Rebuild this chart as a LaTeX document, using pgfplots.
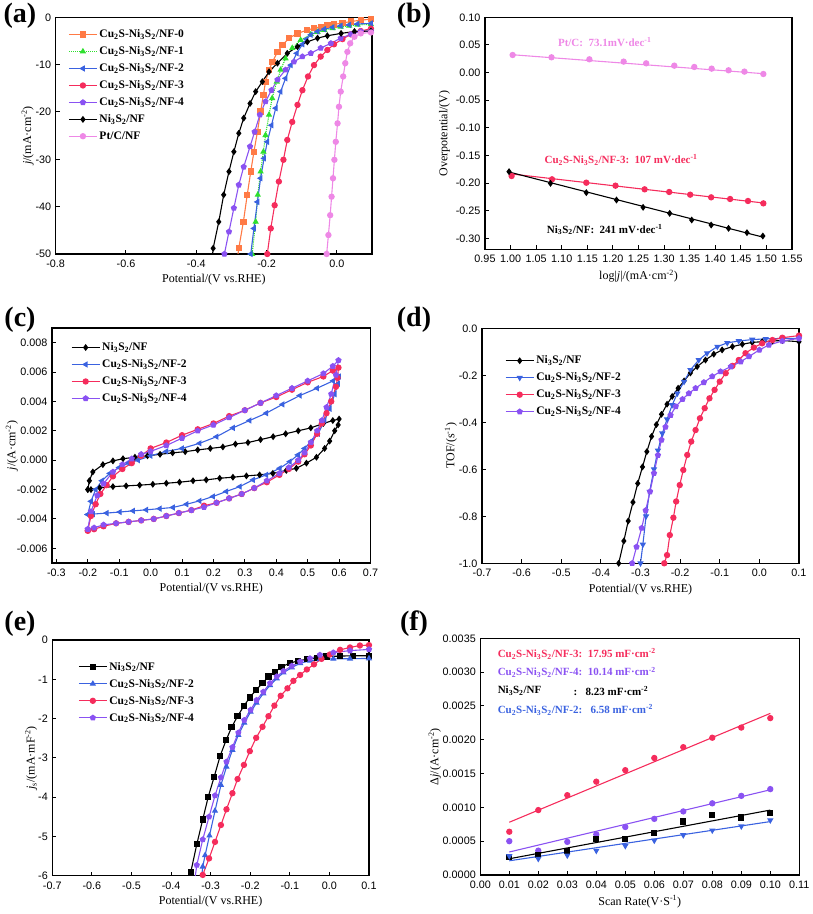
\documentclass[border=0pt]{standalone}
\usepackage{fontspec}
\setmainfont{Liberation Serif}
\newfontfamily\arialf{Liberation Sans}
\usepackage{pgfplots}
\pgfplotsset{compat=1.18}

\definecolor{cOr}{HTML}{FF7A45}
\definecolor{cGr}{HTML}{2EE02E}
\definecolor{cBl}{HTML}{3A62E0}
\definecolor{cRd}{HTML}{F52C5C}
\definecolor{cPu}{HTML}{8A52F2}
\definecolor{cPk}{HTML}{EE88E6}

\newcommand{\cns}[1]{Cu\textsubscript{2}S-Ni\textsubscript{3}S\textsubscript{2}/NF-#1}
\newcommand{\ns}{Ni\textsubscript{3}S\textsubscript{2}/NF}

\pgfplotsset{
  panel/.style={
    scale only axis,
    axis line style={line width=1.1pt},
    tick align=inside,
    xtick pos=left, ytick pos=left,
    major tick length=4pt,
    tick style={line width=1pt, black},
    tick label style={font=\arialf\fontsize{10.8}{12}\selectfont},
    xticklabel style={yshift=-2.5pt},
    yticklabel style={xshift=-1pt},
    /pgf/number format/assume math mode=true,
    label style={font=\fontsize{12}{14}\selectfont},
    scaled ticks=false,
    legend cell align=left,
    legend style={draw=none, fill=none, font=\bfseries\fontsize{11.5}{13}\selectfont, row sep=3.5pt, nodes={inner sep=2pt}},
    legend image code/.code={\draw[mark repeat=2,mark phase=2] plot coordinates {(0pt,0pt) (14pt,0pt) (28pt,0pt)};},
    every axis plot/.append style={line width=1.1pt, mark size=2.6pt},
  },
  f1/.style={/pgf/number format/.cd, fixed, fixed zerofill, precision=1},
  f2/.style={/pgf/number format/.cd, fixed, fixed zerofill, precision=2},
  f3/.style={/pgf/number format/.cd, fixed, fixed zerofill, precision=3},
  f4/.style={/pgf/number format/.cd, fixed, fixed zerofill, precision=4},
}

\begin{document}
\begin{tikzpicture}
\useasboundingbox (0,0) rectangle (813pt,914pt);

% ---------------- (a)
\begin{axis}[panel, at={(55.7pt,660pt)}, anchor=south west, width=316.3pt, height=236.7pt,
  xmin=-0.8, xmax=0.1, ymin=-50, ymax=0,
  xtick={-0.8,-0.6,-0.4,-0.2,0.0}, ytick={0,-10,-20,-30,-40,-50},
  xticklabel style={f1}, ylabel shift=-5pt,
  xlabel={Potential/(V vs.RHE)}, ylabel={\textit{j}/(mA·cm\textsuperscript{-2})},
  legend style={at={(0.03,0.965)}, anchor=north west}]
\addplot[cOr, mark=square*] coordinates {(-0.285,-52) (-0.279,-48.8) (-0.266,-43.2) (-0.255,-37.5) (-0.245,-32.6) (-0.236,-28.4) (-0.226,-24.2) (-0.217,-19.9) (-0.209,-16.4) (-0.203,-13.6) (-0.193,-11.1) (-0.183,-9.4) (-0.169,-7.3) (-0.155,-5.9) (-0.136,-4.4) (-0.112,-3.4) (-0.084,-2.7) (-0.065,-2.3) (-0.046,-2.0) (-0.027,-1.7) (-0.008,-1.5) (0.016,-1.2) (0.04,-0.9) (0.068,-0.6) (0.097,-0.4)};
\addlegendentry{\cns{0}}
\addplot[cGr, densely dotted, mark=triangle*, mark options={solid}] coordinates {(-0.243,-52) (-0.241,-50) (-0.231,-43.2) (-0.225,-37.5) (-0.217,-32.6) (-0.209,-28.4) (-0.203,-24.9) (-0.193,-20.6) (-0.184,-17.1) (-0.171,-13.6) (-0.160,-11.1) (-0.146,-8.7) (-0.127,-6.5) (-0.103,-4.8) (-0.074,-3.6) (-0.055,-3.1) (-0.036,-2.7) (-0.012,-2.3) (0.011,-2.0) (0.035,-1.8) (0.059,-1.6) (0.097,-1.5)};
\addlegendentry{\cns{1}}
\addplot[cBl, mark=triangle*, mark options={rotate=90}] coordinates {(-0.247,-52) (-0.245,-50) (-0.236,-44.6) (-0.226,-39.0) (-0.217,-34.0) (-0.207,-29.8) (-0.198,-26.3) (-0.186,-22.8) (-0.174,-19.2) (-0.160,-15.7) (-0.146,-12.9) (-0.131,-10.1) (-0.114,-7.6) (-0.098,-5.7) (-0.086,-4.6) (-0.074,-3.7) (-0.055,-3.0) (-0.036,-2.5) (-0.012,-2.1) (0.011,-1.8) (0.035,-1.6) (0.059,-1.4) (0.097,-1.3)};
\addlegendentry{\cns{2}}
\addplot[cRd, mark=*] coordinates {(-0.200,-52) (-0.198,-50) (-0.188,-44.6) (-0.177,-39.7) (-0.165,-34.7) (-0.152,-30.1) (-0.141,-25.9) (-0.127,-22.1) (-0.112,-18.5) (-0.098,-15.4) (-0.082,-12.5) (-0.065,-10.1) (-0.046,-8.3) (-0.027,-6.9) (-0.008,-5.7) (0.016,-4.6) (0.04,-3.6) (0.068,-2.9) (0.097,-2.4)};
\addlegendentry{\cns{3}}
\addplot[cPu, mark=pentagon*] coordinates {(-0.322,-52) (-0.320,-50) (-0.307,-45.3) (-0.293,-40.3) (-0.279,-35.4) (-0.265,-31.6) (-0.247,-27.3) (-0.234,-24.2) (-0.219,-20.6) (-0.203,-17.8) (-0.186,-15.4) (-0.169,-13.2) (-0.146,-11.1) (-0.122,-9.4) (-0.098,-8.3) (-0.074,-7.6) (-0.046,-6.5) (-0.017,-5.5) (0.011,-4.4) (0.04,-3.6) (0.068,-3.0) (0.097,-2.9)};
\addlegendentry{\cns{4}}
\addplot[black, mark=diamond*] coordinates {(-0.356,-52) (-0.352,-48.8) (-0.336,-43.2) (-0.322,-37.5) (-0.307,-32.6) (-0.293,-28.4) (-0.279,-24.5) (-0.265,-21.3) (-0.247,-18.2) (-0.231,-15.7) (-0.212,-13.6) (-0.193,-11.5) (-0.169,-9.7) (-0.141,-7.6) (-0.112,-6.2) (-0.084,-5.2) (-0.055,-4.4) (-0.027,-3.9) (0.012,-3.4) (0.05,-3.0) (0.097,-2.9)};
\addlegendentry{\ns}
\addplot[cPk, mark=*] coordinates {(-0.030,-52) (-0.029,-50) (-0.024,-46) (-0.019,-41.8) (-0.015,-37.9) (-0.011,-34.0) (-0.007,-30.1) (-0.003,-26.3) (0.002,-22.4) (0.006,-18.9) (0.011,-15.7) (0.018,-12.5) (0.024,-9.7) (0.030,-7.3) (0.038,-5.5) (0.050,-4.1) (0.068,-3.4) (0.097,-3.2)};
\addlegendentry{Pt/C/NF}
\end{axis}

% ---------------- (b)
\begin{axis}[panel, at={(485pt,664.6pt)}, anchor=south west, width=307pt, height=232.1pt,
  xmin=0.95, xmax=1.55, ymin=-0.32, ymax=0.10,
  xtick={0.95,1.00,1.05,1.10,1.15,1.20,1.25,1.30,1.35,1.40,1.45,1.50,1.55},
  ytick={0.10,0.05,0.00,-0.05,-0.10,-0.15,-0.20,-0.25,-0.30},
  xticklabel style={f2}, yticklabel style={f2}, ylabel shift=-1pt,
  xlabel={log|\textit{j}|/(mA·cm\textsuperscript{-2})}, ylabel={Overpotential/(V)}]
\addplot[cPk, no marks] coordinates {(1.0,0.0325) (1.494,-0.002)};
\addplot[cPk, only marks, mark=*] coordinates {(1.004,0.0318) (1.080,0.0276) (1.154,0.024) (1.221,0.0198) (1.265,0.0167) (1.320,0.0125) (1.359,0.0101) (1.393,0.0071) (1.426,0.0041) (1.457,0.0017) (1.494,-0.0026)};
\addplot[cRd, no marks] coordinates {(0.997,-0.183) (1.494,-0.236)};
\addplot[cRd, only marks, mark=*] coordinates {(1.002,-0.1872) (1.081,-0.1932) (1.148,-0.1993) (1.205,-0.2047) (1.262,-0.2113) (1.310,-0.2161) (1.351,-0.2210) (1.392,-0.2258) (1.429,-0.2288) (1.464,-0.2324) (1.494,-0.2367)};
\addplot[black, no marks] coordinates {(0.997,-0.180) (1.494,-0.298)};
\addplot[black, only marks, mark=diamond*] coordinates {(0.997,-0.1793) (1.078,-0.2005) (1.148,-0.2173) (1.207,-0.2306) (1.259,-0.2439) (1.311,-0.2548) (1.354,-0.2668) (1.392,-0.2759) (1.426,-0.2819) (1.462,-0.2897) (1.493,-0.2958)};
\node[text=cPk, font=\bfseries\fontsize{11}{13}\selectfont] at (axis cs:1.184,0.056) {Pt/C:\ \ 73.1mV·dec\textsuperscript{-1}};
\node[text=cRd, font=\bfseries\fontsize{11}{13}\selectfont] at (axis cs:1.216,-0.158) {Cu\textsubscript{2}S-Ni\textsubscript{3}S\textsubscript{2}/NF-3:\ \ 107 mV·dec\textsuperscript{-1}};
\node[text=black, font=\bfseries\fontsize{11}{13}\selectfont] at (axis cs:1.184,-0.284) {Ni\textsubscript{3}S\textsubscript{2}/NF:\ \ 241 mV·dec\textsuperscript{-1}};
\end{axis}

% ---------------- (c)
\begin{axis}[panel, at={(52pt,351pt)}, anchor=south west, width=318.5pt, height=235pt,
  xmin=-0.314, xmax=0.7, ymin=-0.007, ymax=0.009,
  xtick={-0.3,-0.2,-0.1,0.0,0.1,0.2,0.3,0.4,0.5,0.6,0.7},
  ytick={0.008,0.006,0.004,0.002,0.000,-0.002,-0.004,-0.006},
  xticklabel style={f1}, yticklabel style={f3}, ylabel shift=-8pt,
  xlabel={Potential/(V vs.RHE)}, ylabel={\textit{j}/(A·cm\textsuperscript{-2})},
  legend style={at={(0.05,0.955)}, anchor=north west}]
\addplot[black, mark=diamond*] coordinates {(-0.200,-0.0020) (-0.195,-0.0014) (-0.184,-0.0008) (-0.152,-0.0003) (-0.120,-0.00005) (-0.088,0.0001) (-0.050,0.0002) (-0.010,0.0003) (0.030,0.0004) (0.070,0.0005) (0.110,0.00058) (0.150,0.0007) (0.190,0.0008) (0.230,0.0009) (0.270,0.0011) (0.310,0.0012) (0.350,0.0014) (0.390,0.0016) (0.430,0.0018) (0.470,0.0020) (0.510,0.0022) (0.550,0.0025) (0.580,0.0027) (0.600,0.0028) (0.597,0.0024) (0.586,0.0020) (0.570,0.0013) (0.554,0.0008) (0.528,0.0002) (0.496,-0.0002) (0.464,-0.00055) (0.432,-0.0007) (0.389,-0.0009) (0.347,-0.0010) (0.305,-0.00107) (0.262,-0.00116) (0.220,-0.00123) (0.177,-0.00134) (0.135,-0.0014) (0.092,-0.0015) (0.050,-0.00157) (0.007,-0.00164) (-0.035,-0.0017) (-0.078,-0.00175) (-0.120,-0.0018) (-0.162,-0.00188) (-0.190,-0.0020) (-0.200,-0.0020)};
\addlegendentry{\ns}
\addplot[cBl, mark=triangle*, mark options={rotate=90}] coordinates {(-0.200,-0.0037) (-0.190,-0.0028) (-0.175,-0.0020) (-0.155,-0.0014) (-0.130,-0.0009) (-0.100,-0.0005) (-0.070,-0.0002) (-0.040,0.0000) (0.000,0.0003) (0.050,0.0006) (0.100,0.0008) (0.156,0.00115) (0.210,0.0016) (0.262,0.0022) (0.315,0.0027) (0.368,0.0032) (0.420,0.0038) (0.475,0.0044) (0.530,0.0049) (0.581,0.0054) (0.600,0.0057) (0.597,0.0052) (0.586,0.0045) (0.570,0.0035) (0.554,0.0027) (0.533,0.0018) (0.512,0.0013) (0.490,0.0008) (0.469,0.00036) (0.443,-0.0001) (0.411,-0.00055) (0.368,-0.0010) (0.326,-0.00134) (0.284,-0.0018) (0.241,-0.00213) (0.199,-0.00247) (0.156,-0.00277) (0.114,-0.0030) (0.071,-0.00322) (0.029,-0.0033) (-0.014,-0.00338) (-0.056,-0.00345) (-0.098,-0.00353) (-0.140,-0.0036) (-0.183,-0.00367) (-0.200,-0.0037)};
\addlegendentry{\cns{2}}
\addplot[cRd, mark=*] coordinates {(-0.200,-0.0048) (-0.190,-0.0038) (-0.175,-0.0030) (-0.160,-0.0023) (-0.140,-0.0017) (-0.120,-0.0011) (-0.090,-0.0006) (-0.060,-0.0002) (-0.030,0.0003) (0.000,0.0008) (0.050,0.0012) (0.100,0.0017) (0.150,0.0021) (0.200,0.0025) (0.250,0.0030) (0.300,0.0034) (0.350,0.0039) (0.400,0.0043) (0.450,0.0048) (0.500,0.0053) (0.550,0.0057) (0.580,0.0061) (0.598,0.0063) (0.595,0.0056) (0.590,0.0050) (0.575,0.0040) (0.560,0.0032) (0.545,0.0025) (0.530,0.0018) (0.510,0.0010) (0.490,0.0004) (0.470,-0.0001) (0.440,-0.0006) (0.410,-0.0010) (0.370,-0.0015) (0.330,-0.0019) (0.290,-0.0023) (0.250,-0.0026) (0.210,-0.0029) (0.170,-0.0031) (0.130,-0.0034) (0.090,-0.0036) (0.050,-0.0038) (0.010,-0.0040) (-0.030,-0.0041) (-0.070,-0.0042) (-0.110,-0.0043) (-0.150,-0.0045) (-0.180,-0.0047) (-0.200,-0.0048)};
\addlegendentry{\cns{3}}
\addplot[cPu, mark=pentagon*] coordinates {(-0.200,-0.0047) (-0.190,-0.0035) (-0.170,-0.0024) (-0.150,-0.0016) (-0.120,-0.0008) (-0.090,-0.0003) (-0.060,0.0001) (-0.030,0.0004) (0.000,0.0006) (0.050,0.0010) (0.100,0.0015) (0.150,0.0020) (0.200,0.0024) (0.250,0.0029) (0.300,0.0034) (0.350,0.0039) (0.400,0.0044) (0.450,0.0049) (0.500,0.0054) (0.550,0.0059) (0.580,0.0064) (0.598,0.0068) (0.590,0.0058) (0.575,0.0045) (0.560,0.0036) (0.545,0.0027) (0.530,0.0020) (0.510,0.0012) (0.490,0.0005) (0.470,0.0000) (0.440,-0.0005) (0.410,-0.0009) (0.370,-0.0014) (0.330,-0.0019) (0.290,-0.0023) (0.250,-0.0026) (0.210,-0.0029) (0.170,-0.0032) (0.130,-0.0034) (0.090,-0.0036) (0.050,-0.0038) (0.010,-0.0040) (-0.030,-0.0041) (-0.070,-0.0042) (-0.110,-0.0043) (-0.150,-0.0044) (-0.180,-0.0046) (-0.200,-0.0047)};
\addlegendentry{\cns{4}}
\end{axis}

% ---------------- (d)
\begin{axis}[panel, at={(482pt,350.7pt)}, anchor=south west, width=317pt, height=235pt,
  xmin=-0.7, xmax=0.1, ymin=-1, ymax=0,
  xtick={-0.7,-0.6,-0.5,-0.4,-0.3,-0.2,-0.1,0.0,0.1},
  ytick={0.0,-0.2,-0.4,-0.6,-0.8,-1.0},
  xticklabel style={f1}, yticklabel style={f1}, ylabel shift=-5pt,
  xlabel={Potential/(V vs.RHE)}, ylabel={TOF/(s\textsuperscript{-1})},
  legend style={at={(0.063,0.90)}, anchor=north west}]
\addplot[black, mark=diamond*] coordinates {(-0.355,-1.0) (-0.342,-0.905) (-0.331,-0.82) (-0.319,-0.74) (-0.307,-0.66) (-0.295,-0.59) (-0.284,-0.525) (-0.272,-0.46) (-0.26,-0.41) (-0.247,-0.366) (-0.233,-0.323) (-0.22,-0.29) (-0.205,-0.255) (-0.19,-0.224) (-0.174,-0.19) (-0.157,-0.163) (-0.136,-0.135) (-0.115,-0.11) (-0.094,-0.092) (-0.068,-0.078) (-0.043,-0.068) (-0.018,-0.06) (0.007,-0.057) (0.033,-0.054) (0.058,-0.052) (0.1,-0.057)};
\addlegendentry{\ns}
\addplot[cBl, mark=triangle*, mark options={rotate=180}] coordinates {(-0.3,-1.0) (-0.294,-0.92) (-0.286,-0.80) (-0.277,-0.695) (-0.266,-0.60) (-0.256,-0.52) (-0.245,-0.447) (-0.233,-0.387) (-0.22,-0.326) (-0.207,-0.277) (-0.19,-0.227) (-0.174,-0.177) (-0.153,-0.135) (-0.132,-0.106) (-0.106,-0.078) (-0.081,-0.062) (-0.052,-0.054) (-0.018,-0.048) (0.016,-0.045) (0.058,-0.043) (0.1,-0.043)};
\addlegendentry{\cns{2}}
\addplot[cRd, mark=*] coordinates {(-0.24,-1.0) (-0.233,-0.965) (-0.226,-0.88) (-0.217,-0.806) (-0.21,-0.737) (-0.201,-0.667) (-0.192,-0.603) (-0.182,-0.539) (-0.172,-0.482) (-0.161,-0.433) (-0.150,-0.383) (-0.138,-0.34) (-0.126,-0.298) (-0.113,-0.262) (-0.1,-0.227) (-0.085,-0.191) (-0.068,-0.16) (-0.052,-0.135) (-0.035,-0.106) (-0.014,-0.082) (0.007,-0.064) (0.033,-0.05) (0.058,-0.04) (0.1,-0.031)};
\addlegendentry{\cns{3}}
\addplot[cPu, mark=pentagon*] coordinates {(-0.321,-1.0) (-0.310,-0.93) (-0.297,-0.85) (-0.287,-0.775) (-0.276,-0.695) (-0.266,-0.617) (-0.256,-0.54) (-0.247,-0.475) (-0.237,-0.42) (-0.224,-0.37) (-0.211,-0.333) (-0.194,-0.302) (-0.178,-0.277) (-0.161,-0.255) (-0.14,-0.23) (-0.119,-0.205) (-0.098,-0.184) (-0.072,-0.163) (-0.047,-0.142) (-0.026,-0.12) (0.0,-0.092) (0.024,-0.071) (0.058,-0.054) (0.1,-0.043)};
\addlegendentry{\cns{4}}
\end{axis}

% ---------------- (e)
\begin{axis}[panel, at={(52.3pt,38.3pt)}, anchor=south west, width=316.7pt, height=235.7pt,
  xmin=-0.7, xmax=0.1, ymin=-6, ymax=0,
  xtick={-0.7,-0.6,-0.5,-0.4,-0.3,-0.2,-0.1,0.0,0.1},
  ytick={0,-1,-2,-3,-4,-5,-6},
  xticklabel style={f1}, ylabel shift=-6pt,
  xlabel={Potential/(V vs.RHE)}, ylabel={\textit{j}\textsubscript{s}/(mA·mF\textsuperscript{-2})},
  legend style={at={(0.072,0.924)}, anchor=north west}]
\addplot[black, mark=square*] coordinates {(-0.352,-6.1) (-0.35,-5.9) (-0.335,-5.2) (-0.32,-4.57) (-0.306,-3.99) (-0.291,-3.48) (-0.276,-2.95) (-0.261,-2.55) (-0.247,-2.22) (-0.232,-1.94) (-0.216,-1.68) (-0.201,-1.46) (-0.185,-1.27) (-0.169,-1.10) (-0.154,-0.93) (-0.137,-0.81) (-0.121,-0.68) (-0.1,-0.59) (-0.079,-0.53) (-0.057,-0.49) (-0.032,-0.45) (-0.007,-0.42) (0.027,-0.41) (0.06,-0.40) (0.1,-0.40)};
\addlegendentry{\ns}
\addplot[cBl, mark=triangle*] coordinates {(-0.323,-6.05) (-0.32,-5.77) (-0.314,-5.48) (-0.303,-4.98) (-0.289,-4.35) (-0.274,-3.69) (-0.26,-3.23) (-0.245,-2.80) (-0.23,-2.42) (-0.215,-2.11) (-0.199,-1.83) (-0.184,-1.60) (-0.167,-1.36) (-0.15,-1.15) (-0.133,-0.98) (-0.116,-0.83) (-0.095,-0.70) (-0.074,-0.59) (-0.049,-0.53) (-0.024,-0.49) (0.01,-0.48) (0.052,-0.475) (0.1,-0.47)};
\addlegendentry{\cns{2}}
\addplot[cRd, mark=*] coordinates {(-0.322,-6.1) (-0.32,-5.98) (-0.304,-5.56) (-0.289,-5.14) (-0.274,-4.71) (-0.26,-4.31) (-0.245,-3.90) (-0.232,-3.54) (-0.216,-3.18) (-0.201,-2.83) (-0.185,-2.49) (-0.169,-2.21) (-0.154,-1.94) (-0.139,-1.67) (-0.123,-1.42) (-0.106,-1.23) (-0.091,-1.04) (-0.074,-0.89) (-0.057,-0.75) (-0.039,-0.62) (-0.02,-0.48) (0.001,-0.37) (0.027,-0.25) (0.052,-0.19) (0.077,-0.14) (0.1,-0.13)};
\addlegendentry{\cns{3}}
\addplot[cPu, mark=pentagon*] coordinates {(-0.340,-6.1) (-0.335,-5.73) (-0.32,-5.08) (-0.304,-4.50) (-0.289,-3.96) (-0.274,-3.50) (-0.26,-3.10) (-0.245,-2.73) (-0.23,-2.36) (-0.215,-2.04) (-0.199,-1.78) (-0.184,-1.53) (-0.167,-1.32) (-0.15,-1.10) (-0.133,-0.93) (-0.116,-0.79) (-0.095,-0.66) (-0.074,-0.55) (-0.049,-0.47) (-0.024,-0.38) (0.01,-0.32) (0.052,-0.27) (0.1,-0.24)};
\addlegendentry{\cns{4}}
\end{axis}

% ---------------- (f)
\begin{axis}[panel, at={(480.3pt,39pt)}, anchor=south west, width=319pt, height=236.7pt,
  xmin=0, xmax=0.11, ymin=0, ymax=0.0035,
  xtick={0.00,0.01,0.02,0.03,0.04,0.05,0.06,0.07,0.08,0.09,0.10,0.11},
  ytick={0.0000,0.0005,0.0010,0.0015,0.0020,0.0025,0.0030,0.0035},
  xticklabel style={f2}, yticklabel style={f4}, ylabel shift=-5pt,
  xlabel={Scan Rate(V·S\textsuperscript{-1})}, ylabel={Δ\textit{j}/(A·cm\textsuperscript{-2})}]
\addplot[cRd, no marks] coordinates {(0.01,0.00078) (0.10,0.00239)};
\addplot[cRd, only marks, mark=*] coordinates {(0.01,0.00064) (0.02,0.00096) (0.03,0.00118) (0.04,0.00138) (0.05,0.00155) (0.06,0.00173) (0.07,0.00189) (0.08,0.00203) (0.09,0.00218) (0.10,0.00232)};
\addplot[cPu, no marks] coordinates {(0.01,0.00034) (0.10,0.00126)};
\addplot[cPu, only marks, mark=*] coordinates {(0.01,0.00050) (0.02,0.00036) (0.03,0.00049) (0.04,0.00060) (0.05,0.00071) (0.06,0.00083) (0.07,0.00094) (0.08,0.00106) (0.09,0.00117) (0.10,0.00127)};
\addplot[black, no marks] coordinates {(0.01,0.00024) (0.10,0.00096)};
\addplot[black, only marks, mark=square*] coordinates {(0.01,0.00027) (0.02,0.00030) (0.03,0.00036) (0.04,0.00053) (0.05,0.00053) (0.06,0.00062) (0.07,0.00079) (0.08,0.00089) (0.09,0.00085) (0.10,0.00092)};
\addplot[cBl, no marks] coordinates {(0.01,0.00021) (0.10,0.00079)};
\addplot[cBl, only marks, mark=triangle*, mark options={rotate=180}] coordinates {(0.01,0.00028) (0.02,0.00024) (0.03,0.00029) (0.04,0.00036) (0.05,0.00043) (0.06,0.00051) (0.07,0.00059) (0.08,0.00066) (0.09,0.00072) (0.10,0.00081)};
\node[anchor=west, text=cRd, font=\bfseries\fontsize{11}{13}\selectfont] at (axis cs:0.0048,0.003268) {\cns{3}:\ \ 17.95 mF·cm\textsuperscript{-2}};
\node[anchor=west, text=cPu, font=\bfseries\fontsize{11}{13}\selectfont] at (axis cs:0.0048,0.002997) {\cns{4}:\ \ 10.14 mF·cm\textsuperscript{-2}};
\node[anchor=west, text=black, font=\bfseries\fontsize{11}{13}\selectfont] at (axis cs:0.0048,0.002721) {\ns};
\node[anchor=west, text=black, font=\bfseries\fontsize{11}{13}\selectfont] at (axis cs:0.0310,0.002721) {:\ \ \ 8.23 mF·cm\textsuperscript{-2}};
\node[anchor=west, text=cBl, font=\bfseries\fontsize{11}{13}\selectfont] at (axis cs:0.0048,0.00244) {\cns{2}:\ \ \ 6.58 mF·cm\textsuperscript{-2}};
\end{axis}

% panel labels
\node[font=\bfseries\fontsize{28}{28}\selectfont] at (20pt,898pt) {(a)};
\node[font=\bfseries\fontsize{28}{28}\selectfont] at (414pt,898pt) {(b)};
\node[font=\bfseries\fontsize{28}{28}\selectfont] at (20pt,594pt) {(c)};
\node[font=\bfseries\fontsize{28}{28}\selectfont] at (414pt,594pt) {(d)};
\node[font=\bfseries\fontsize{28}{28}\selectfont] at (20pt,290pt) {(e)};
\node[font=\bfseries\fontsize{28}{28}\selectfont] at (414pt,290pt) {(f)};
\end{tikzpicture}
\end{document}
